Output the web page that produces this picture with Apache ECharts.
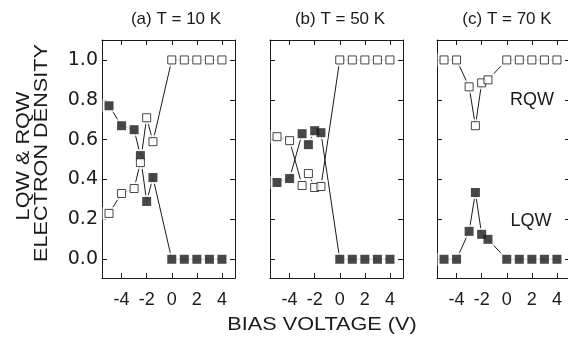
<!DOCTYPE html>
<html>
<head>
<meta charset="utf-8">
<script src="https://cdn.jsdelivr.net/npm/echarts@6/dist/echarts.min.js"></script>
<style>
html,body{margin:0;padding:0;background:#fff;}
#chart{width:568px;height:344px;}
</style>
</head>
<body>
<div id="chart"></div>
<script>
// ---- data ----
const voltages = [-5, -4, -3, -2.5, -2, -1.5, 0, 1, 2, 3, 4];
const lqwA = [0.77, 0.67, 0.65, 0.52, 0.29, 0.41, 0, 0, 0, 0, 0];
const rqwA = [0.23, 0.33, 0.355, 0.485, 0.71, 0.59, 1, 1, 1, 1, 1];
const lqwB = [0.385, 0.405, 0.63, 0.575, 0.645, 0.635, 0, 0, 0, 0, 0];
const rqwB = [0.615, 0.595, 0.37, 0.43, 0.36, 0.365, 1, 1, 1, 1, 1];
const lqwC = [0, 0, 0.14, 0.335, 0.125, 0.10, 0, 0, 0, 0, 0];
const rqwC = [1, 1, 0.865, 0.67, 0.885, 0.90, 1, 1, 1, 1, 1];
const panelTitles = ['(a) T = 10 K', '(b) T = 50 K', '(c) T = 70 K'];
const xTicks = [-4, -2, 0, 2, 4];
const yTicks = [0, 0.2, 0.4, 0.6, 0.8, 1.0];
const xLabel = 'BIAS VOLTAGE (V)';
const yLabel1 = 'LQW & RQW';
const yLabel2 = 'ELECTRON DENSITY';
const seriesNames = ['LQW', 'RQW'];

// ---- layout ----
const panels = [
  { lqw: lqwA, rqw: rqwA, left: 102, titleX: 176 },
  { lqw: lqwB, rqw: rqwB, left: 270, titleX: 340 },
  { lqw: lqwC, rqw: rqwC, left: 437, titleX: 507 }
];
const gridTop = 40, gridH = 238, gridW = 133;
const xMin = -5.56, xMax = 5.04, yMin = -0.094, yMax = 1.1;
const ink = '#1a1a1a';

const grids = [], xAxes = [], yAxes = [], series = [];
const pair = (xs, ys) => xs.map((x, i) => [x, ys[i]]);

panels.forEach((p, i) => {
  grids.push({ left: p.left, top: gridTop, width: gridW, height: gridH, outerBoundsMode: 'none', containLabel: false });
  const axLine = { show: true, onZero: false, lineStyle: { color: ink, width: 1 } };
  ['bottom', 'top'].forEach(pos => {
    xAxes.push({
      type: 'value', gridIndex: i, position: pos, min: xMin, max: xMax,
      axisLine: axLine,
      axisTick: { show: true, inside: true, length: 5, customValues: xTicks, lineStyle: { color: ink, width: 1 } },
      axisLabel: pos === 'bottom'
        ? { show: true, customValues: xTicks, margin: 13, fontFamily: 'Liberation Sans', fontSize: 18, color: ink,
            formatter: v => String(v) }
        : { show: false },
      splitLine: { show: false }
    });
  });
  ['left', 'right'].forEach(pos => {
    yAxes.push({
      type: 'value', gridIndex: i, position: pos, min: yMin, max: yMax,
      axisLine: axLine,
      axisTick: { show: true, inside: true, length: 5, customValues: yTicks, lineStyle: { color: ink, width: 1 } },
      axisLabel: (pos === 'left' && i === 0)
        ? { show: true, customValues: yTicks, margin: 4, fontFamily: 'DejaVu Sans', fontSize: 19, color: ink,
            formatter: v => v.toFixed(1) }
        : { show: false },
      splitLine: { show: false }
    });
  });
  const xi = i * 2, yi = i * 2;
  const sets = [p.lqw, p.rqw];
  sets.forEach((ys, k) => {
    series.push({
      name: seriesNames[k], type: 'line', xAxisIndex: xi, yAxisIndex: yi, data: pair(voltages, ys),
      showSymbol: false, symbol: 'none', lineStyle: { color: ink, width: 1 }, z: 1, silent: true, animation: false
    });
  });
  sets.forEach((ys, k) => {
    series.push({
      name: seriesNames[k] + ' halo', type: 'scatter', xAxisIndex: xi, yAxisIndex: yi, data: pair(voltages, ys),
      symbol: 'rect', symbolSize: 13, itemStyle: { color: '#fff' }, z: 2, silent: true, animation: false
    });
  });
  series.push({
    name: 'LQW', type: 'scatter', xAxisIndex: xi, yAxisIndex: yi, data: pair(voltages, p.lqw),
    symbol: 'rect', symbolSize: 9, itemStyle: { color: ink }, z: 3, animation: false
  });
  series.push({
    name: 'RQW', type: 'scatter', xAxisIndex: xi, yAxisIndex: yi, data: pair(voltages, p.rqw),
    symbol: 'rect', symbolSize: 8, itemStyle: { color: '#fff', borderColor: ink, borderWidth: 1 }, z: 3, animation: false
  });
});

const txt = (text, x, y, size, extra) => Object.assign({
  type: 'text', x: x, y: y,
  style: { text: text, font: size + 'px "Liberation Sans", Arial, sans-serif', fill: ink,
           align: 'center', verticalAlign: 'middle', textAlign: 'center', textVerticalAlign: 'middle' }
}, extra || {});

const graphics = [];
panels.forEach((p, i) => graphics.push(txt(panelTitles[i], p.titleX, 19, 17)));
graphics.push(txt(xLabel, 322, 325, 19, { scaleX: 1.14 }));
graphics.push(txt(yLabel1, 24, 156, 19, { rotation: Math.PI / 2, scaleX: 1.14 }));
graphics.push(txt(yLabel2, 42, 153, 19, { rotation: Math.PI / 2, scaleX: 1.14 }));
graphics.push(txt('RQW', 532, 100, 18));
graphics.push(txt('LQW', 531, 221, 18));

const chart = echarts.init(document.getElementById('chart'), null, { renderer: 'canvas' });
chart.setOption({
  backgroundColor: '#fff',
  animation: false,
  grid: grids,
  xAxis: xAxes,
  yAxis: yAxes,
  series: series,
  graphic: { elements: graphics }
});
</script>
</body>
</html>
